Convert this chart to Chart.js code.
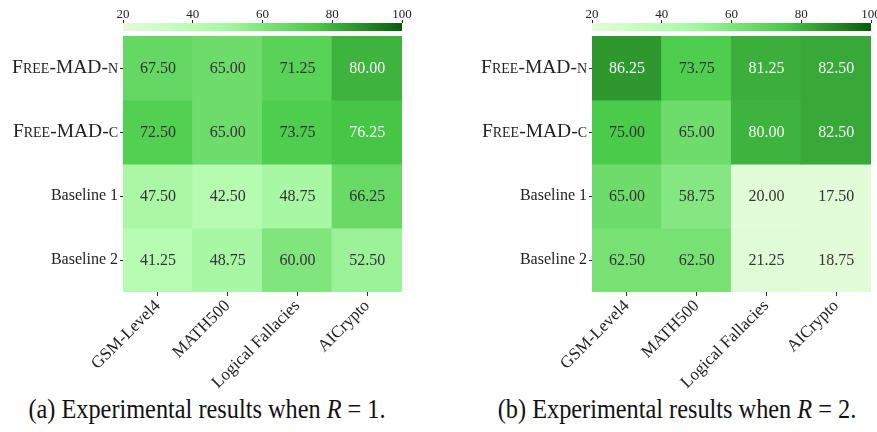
<!DOCTYPE html>
<html>
<head>
<meta charset="utf-8">
<script src="https://cdn.jsdelivr.net/npm/chart.js@4.4.1/dist/chart.umd.min.js"></script>
<style>
  html, body { margin: 0; padding: 0; background: #fff; }
  body { width: 877px; height: 432px; overflow: hidden; position: relative; font-family: "Liberation Serif", serif; }
  canvas { position: absolute; }
  .caption {
    position: absolute; top: 394px; font-size: 27px; line-height: 30px; color: #111;
    white-space: nowrap; transform: translateX(-50%) scaleX(0.9);
  }
</style>
</head>
<body>
<canvas id="heatA" width="438" height="392" style="left:0;top:0"></canvas>
<canvas id="barA" width="438" height="33" style="left:0;top:0"></canvas>
<canvas id="heatB" width="460" height="392" style="left:438px;top:0"></canvas>
<canvas id="barB" width="460" height="33" style="left:438px;top:0"></canvas>
<div class="caption" style="left:207px">(a) Experimental results when <i>R</i> = 1.</div>
<div class="caption" style="left:677px">(b) Experimental results when <i>R</i> = 2.</div>

<script>
// Benchmarks (columns) and methods (rows)
const categories = ['GSM-Level4', 'MATH500', 'Logical Fallacies', 'AICrypto'];
const methods = ['Free-MAD-n', 'Free-MAD-c', 'Baseline 1', 'Baseline 2'];

// Accuracy (%) with R = 1
const r1FreeMadN  = [67.50, 65.00, 71.25, 80.00];
const r1FreeMadC  = [72.50, 65.00, 73.75, 76.25];
const r1Baseline1 = [47.50, 42.50, 48.75, 66.25];
const r1Baseline2 = [41.25, 48.75, 60.00, 52.50];

// Accuracy (%) with R = 2
const r2FreeMadN  = [86.25, 73.75, 81.25, 82.50];
const r2FreeMadC  = [75.00, 65.00, 80.00, 82.50];
const r2Baseline1 = [65.00, 58.75, 20.00, 17.50];
const r2Baseline2 = [62.50, 62.50, 21.25, 18.75];

// Colour bar ticks (also the colour range)
const colorbarTicks = [20, 40, 60, 80, 100];

// Green colour map: [value, colour]
const greenStops = [
  [20, '#e3fcd8'], [40, '#bafdb5'], [50, '#a5f6a1'], [60, '#80e57c'],
  [75, '#4acb4a'], [82.5, '#38a838'], [100, '#0a5a0a']
];

const SERIF = '"Liberation Serif", "Times New Roman", serif';
const vMin = colorbarTicks[0];
const vMax = colorbarTicks[colorbarTicks.length - 1];

function hexToRgb(h) {
  const n = parseInt(h.slice(1), 16);
  return [(n >> 16) & 255, (n >> 8) & 255, n & 255];
}

function colorFor(v) {
  const x = Math.min(vMax, Math.max(vMin, v));
  for (let k = 1; k < greenStops.length; k++) {
    const [v1, c1] = greenStops[k];
    if (x <= v1) {
      const [v0, c0] = greenStops[k - 1];
      const t = (x - v0) / (v1 - v0);
      const a = hexToRgb(c0), b = hexToRgb(c1);
      const rgb = a.map((q, i) => Math.round(q + (b[i] - q) * t));
      return `rgb(${rgb[0]},${rgb[1]},${rgb[2]})`;
    }
  }
  return greenStops[greenStops.length - 1][1];
}

// Writes each cell's value in its centre
const cellLabels = {
  id: 'cellLabels',
  afterDatasetsDraw(chart) {
    const ctx = chart.ctx;
    ctx.save();
    ctx.font = `16px ${SERIF}`;
    ctx.textAlign = 'center';
    ctx.textBaseline = 'middle';
    chart.data.datasets.forEach((ds, i) => {
      chart.getDatasetMeta(i).data.forEach((bar, j) => {
        const v = ds.values[j];
        const p = bar.getCenterPoint();
        ctx.fillStyle = v >= 76 ? '#f4f6f4' : '#333333';
        ctx.fillText(v.toFixed(2), p.x, p.y + 1);
      });
    });
    ctx.restore();
  }
};

function heatmap(canvasId, rows, geom) {
  const n = rows.length;
  const datasets = rows.map((vals, i) => ({
    label: methods[i],
    values: vals,
    data: vals.map(() => [n - 1 - i, n - i]),
    backgroundColor: vals.map(colorFor),
    borderWidth: 0,
    inflateAmount: 0.6,
    barPercentage: 1,
    categoryPercentage: 1,
    grouped: false
  }));

  return new Chart(document.getElementById(canvasId), {
    type: 'bar',
    data: { labels: categories, datasets },
    plugins: [cellLabels],
    options: {
      responsive: false,
      animation: false,
      devicePixelRatio: 1,
      layout: { padding: { left: 0, right: geom.right, top: 36, bottom: 0 } },
      plugins: { legend: { display: false }, tooltip: { enabled: false } },
      scales: {
        x: {
          type: 'category',
          afterFit: s => { s.height = geom.height - 292; },
          ticks: {
            minRotation: 45, maxRotation: 45, autoSkip: false, padding: 0,
            color: '#222', font: { family: SERIF, size: 17 }
          },
          grid: { drawOnChartArea: false, offset: false, tickLength: 4, color: '#333' },
          border: { display: false }
        },
        y: {
          type: 'linear', min: 0, max: n,
          afterBuildTicks: s => { s.ticks = methods.map((m, i) => ({ value: n - 1 - i + 0.5 })); },
          afterFit: s => { s.width = geom.left; },
          ticks: {
            padding: 2,
            color: '#222',
            callback: v => methods[n - 1 - Math.floor(v)],
            font: c => {
              const name = c.tick ? methods[n - 1 - Math.floor(c.tick.value)] : '';
              return name.startsWith('Free')
                ? { family: SERIF, size: 19.5, weight: 'small-caps' }
                : { family: SERIF, size: 16 };
            }
          },
          grid: { drawOnChartArea: false, tickLength: 3, color: '#333' },
          border: { display: false }
        }
      }
    }
  });
}

function colorbar(canvasId, geom) {
  return new Chart(document.getElementById(canvasId), {
    type: 'bar',
    data: {
      labels: ['accuracy'],
      datasets: [{
        data: [[vMin, vMax]],
        backgroundColor: c => {
          const chart = c.chart;
          const area = chart.chartArea;
          if (!area) return greenStops[0][1];
          const xs = chart.scales.x;
          const g = chart.ctx.createLinearGradient(xs.getPixelForValue(vMin), 0, xs.getPixelForValue(vMax), 0);
          greenStops.forEach(([v, col]) => g.addColorStop((v - vMin) / (vMax - vMin), col));
          return g;
        },
        borderWidth: 0,
        inflateAmount: 0,
        barPercentage: 1,
        categoryPercentage: 1
      }]
    },
    options: {
      indexAxis: 'y',
      responsive: false,
      animation: false,
      devicePixelRatio: 1,
      layout: { padding: { left: geom.left, right: geom.right, top: 0, bottom: 2 } },
      plugins: { legend: { display: false }, tooltip: { enabled: false } },
      scales: {
        x: {
          type: 'linear', position: 'top', min: vMin, max: vMax,
          afterBuildTicks: s => { s.ticks = colorbarTicks.map(v => ({ value: v })); },
          afterFit: s => { s.height = 23; },
          ticks: { padding: -2, color: '#222', font: { family: SERIF, size: 13 } },
          grid: { drawOnChartArea: false, tickLength: 3, color: '#222' },
          border: { display: false }
        },
        y: { display: false }
      }
    }
  });
}

const geomA = { left: 123, right: 36, height: 392 };
const geomB = { left: 154, right: 27, height: 392 };

heatmap('heatA', [r1FreeMadN, r1FreeMadC, r1Baseline1, r1Baseline2], geomA);
heatmap('heatB', [r2FreeMadN, r2FreeMadC, r2Baseline1, r2Baseline2], geomB);
colorbar('barA', geomA);
colorbar('barB', geomB);
</script>
</body>
</html>
